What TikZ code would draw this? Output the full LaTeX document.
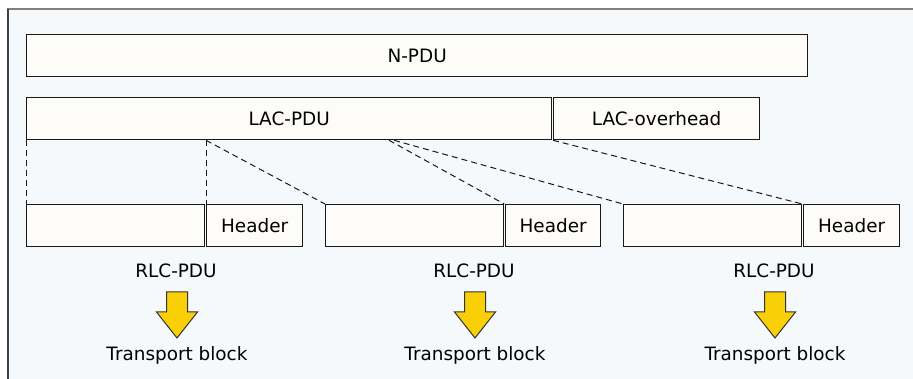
\documentclass[tikz,border=0pt]{standalone}
\usepackage{fontspec}
\setmainfont{DejaVu Sans}
\usetikzlibrary{calc}
\definecolor{panel}{HTML}{F5F9FB}
\definecolor{boxfill}{HTML}{FDFCF8}
\definecolor{framegray}{HTML}{808080}
\definecolor{frameleft}{HTML}{404040}
\definecolor{arrowyellow}{HTML}{F9CF05}
\tikzset{
  pdubox/.style={draw=black!90, line width=1.3pt, fill=boxfill, rectangle,
    anchor=north west, inner sep=0pt, minimum height=42pt,
    font=\fontsize{18.4}{22}\selectfont},
  lbl/.style={anchor=base, inner sep=0pt, font=\fontsize{18.4}{22}\selectfont},
  split/.style={dashed, dash pattern=on 6pt off 4pt, line width=1pt, black!90},
  downarrow/.pic={
    \filldraw[fill=arrowyellow, draw=black!80, line width=1pt, line join=miter]
      (-10.5,0) -- (10.5,0) -- (10.5,20) -- (20.5,20) -- (0,46)
      -- (-20.5,20) -- (-10.5,20) -- cycle;
  }
}
\begin{document}
\begin{tikzpicture}[x=1pt, y=-1pt]
  \useasboundingbox (0,0) rectangle (913,379);
  % panel and its frame
  \fill[panel] (8,9) rectangle (913,379);
  \draw[framegray, line width=2pt] (7,9) -- (913,9);
  \draw[frameleft, line width=1.5pt] (8,9) -- (8,379);

  % upper layers
  \node[pdubox, minimum width=781pt] (npdu) at (26,34) {N-PDU};
  \node[pdubox, minimum width=525pt] (lacpdu) at (26,97) {LAC-PDU};
  \node[pdubox, minimum width=206pt] (lacoh) at (553,97) {LAC-overhead};

  % RLC segments with their headers
  \node[pdubox, minimum width=178pt] (d1) at (26,204) {};
  \node[pdubox, minimum width=96pt] (h1) at (206,204) {Header};
  \node[pdubox, minimum width=178pt] (d2) at (325,204) {};
  \node[pdubox, minimum width=95pt] (h2) at (505,204) {Header};
  \node[pdubox, minimum width=178pt] (d3) at (623,204) {};
  \node[pdubox, minimum width=96pt] (h3) at (803,204) {Header};

  % split points on the bottom edge of the LAC-PDU
  \coordinate (s1) at (h1.north west |- lacpdu.south);
  \coordinate (s2) at ($(lacpdu.south west)+(363,0)$);
  \coordinate (s3) at ($(lacpdu.south west)+(368,0)$);

  % segmentation lines
  \draw[split] (lacpdu.south west) -- (d1.north west);
  \draw[split] (s1) -- (h1.north west);
  \draw[split] (s1) -- (d2.north west);
  \draw[split] (s2) -- (d2.north east);
  \draw[split] (s3) -- (d3.north west);
  \draw[split] (lacoh.south west) -- (d3.north east);

  % labels and arrows below each segment
  \foreach \i/\cx in {1/176, 2/474, 3/774} {
    \node[lbl] (rlc\i) at (\cx,278) {RLC-PDU};
    \pic at (\cx+1,292) {downarrow};
    \node[lbl] (tb\i) at (\cx+1,360) {Transport block};
  }
\end{tikzpicture}
\end{document}
